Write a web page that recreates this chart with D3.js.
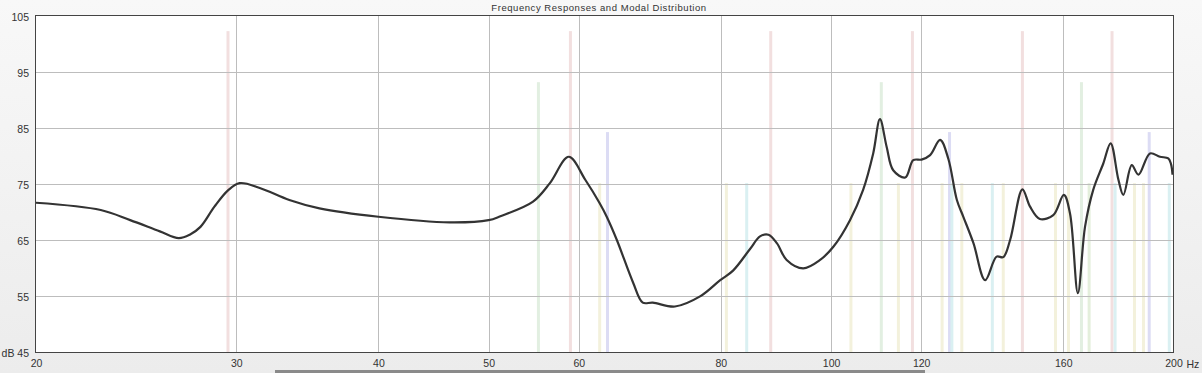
<!DOCTYPE html>
<html>
<head>
<meta charset="utf-8">
<script src="https://cdn.jsdelivr.net/npm/d3@7/dist/d3.min.js"></script>
<style>
  html, body { margin: 0; padding: 0; background: #f2f2f2; }
  svg { display: block; }
  text { font-family: "Liberation Sans", Arial, sans-serif; fill: #333; }
</style>
</head>
<body>
<svg id="chart" width="1202" height="373"></svg>
<script>
// ---------- data ----------
const title = "Frequency Responses and Modal Distribution";
const xTicks = [20, 30, 40, 50, 60, 80, 100, 120, 160, 200];
const yTicks = [45, 55, 65, 75, 85, 95, 105];

// measured response: frequency (Hz) and level (dB)
const respFreq = [20.0, 22.8, 24.2, 25.7, 26.7, 27.3, 27.9, 28.7, 29.5, 30.2, 31.5, 33.4, 35.5,
  40.0, 46.2, 50.0, 51.2, 54.7, 56.6, 58.8, 60.8, 62.6, 63.5, 64.8, 67.0, 68.3, 69.7, 72.9,
  76.7, 79.9, 82.0, 84.9, 86.6, 88.1, 89.6, 91.4, 94.5, 97.8, 100.5, 103.9, 106.7, 108.9,
  110.4, 111.9, 113.4, 116.2, 118.1, 120.1, 122.2, 124.7, 126.8, 129.0, 130.7, 133.4, 136.6,
  139.8, 141.7, 143.7, 147.3, 149.6, 152.6, 156.8, 160.2, 162.2, 164.8, 167.2, 170.0, 173.5,
  176.1, 178.9, 180.7, 183.8, 186.3, 190.7, 194.6, 197.9, 199.0, 199.6];
const respDb = [71.7, 70.4, 68.6, 66.6, 65.4, 66.0, 67.4, 71.0, 73.9, 75.2, 74.3, 72.2, 70.7,
  69.2, 68.2, 68.6, 69.3, 71.9, 75.2, 79.9, 75.8, 71.6, 69.2, 65.1, 57.4, 53.9, 53.9, 53.2,
  55.0, 57.9, 59.6, 63.5, 65.7, 66.0, 64.5, 61.5, 60.0, 61.5, 63.9, 68.6, 74.0, 80.5,
  86.6, 81.7, 77.5, 76.2, 79.3, 79.4, 80.2, 82.9, 79.5, 72.2, 69.2, 64.5, 57.9,
  62.1, 62.0, 65.1, 74.1, 71.0, 68.8, 69.5, 73.1, 69.8, 55.6, 67.4, 74.0, 78.7,
  82.3, 75.8, 73.1, 78.4, 76.7, 80.5, 79.9, 79.6, 78.6, 76.7];

// room modes by family (Hz)
const modesLength = [29.5, 59.0, 88.5, 117.9, 147.3, 176.6];
const modesWidth = [55.3, 110.7, 166.0];
const modesHeight = [63.6, 127.1, 190.4];
const modesTangA = [62.6, 80.9, 104.1, 114.6, 125.2, 130.3, 141.7, 157.5, 161.7, 184.8, 188.2];
const modesTangB = [84.3, 127.7, 138.6, 177.7, 198.3];
const modesTangC = [168.6];
// bar top level (dB) of each family
const modeLevels = [102.3, 93.2, 84.3, 75.2, 75.2, 75.2];
const modeColors = ["#f2dfdf", "#e2efe1", "#dcdcf4", "#f3f1dc", "#daf0f2", "#e4efdc"];

// ---------- layout ----------
const W = 1202, H = 373;
const L = 36, R = 1173.5, T = 16, B = 352.5;
const svg = d3.select("#chart");

const defs = svg.append("defs");
const grad = defs.append("linearGradient").attr("id", "bg").attr("x1", 0).attr("y1", 0).attr("x2", 0).attr("y2", 1);
grad.append("stop").attr("offset", "0%").attr("stop-color", "#f8f8f8");
grad.append("stop").attr("offset", "100%").attr("stop-color", "#ececec");
svg.append("rect").attr("width", W).attr("height", H).attr("fill", "url(#bg)");

const x = d3.scaleLog().domain([20, 200]).range([L, R]);
const y = d3.scaleLinear().domain([45, 105]).range([B, T]);

// plot background
svg.append("rect").attr("x", L).attr("y", T).attr("width", R - L).attr("height", B - T).attr("fill", "#ffffff");

// modal bars
const families = [modesLength, modesWidth, modesHeight, modesTangA, modesTangB, modesTangC];
families.forEach((arr, i) => {
  svg.append("g").selectAll("rect").data(arr).join("rect")
    .attr("x", d => x(d) - 1.5)
    .attr("width", 3)
    .attr("y", y(modeLevels[i]))
    .attr("height", d => B - y(modeLevels[i]))
    .attr("fill", modeColors[i]);
});

// grid
const crisp = v => Math.round(v) + 0.5;
svg.append("g").selectAll("line").data(yTicks.slice(1, -1)).join("line")
  .attr("x1", L).attr("x2", R)
  .attr("y1", d => crisp(y(d))).attr("y2", d => crisp(y(d)))
  .attr("stroke", "#bdbdbd").attr("stroke-width", 1);
svg.append("g").selectAll("line").data(xTicks.slice(1, -1)).join("line")
  .attr("y1", T).attr("y2", B)
  .attr("x1", d => crisp(x(d))).attr("x2", d => crisp(x(d)))
  .attr("stroke", "#bdbdbd").attr("stroke-width", 1);

// response curve
const pts = respFreq.map((f, i) => [f, respDb[i]]);
const line = d3.line().x(d => x(d[0])).y(d => y(d[1])).curve(d3.curveCatmullRom.alpha(0.5));
svg.append("path").datum(pts).attr("d", line)
  .attr("fill", "none").attr("stroke", "#333").attr("stroke-width", 2.2)
  .attr("stroke-linejoin", "round");

// frame
svg.append("rect").attr("x", crisp(L) - 1).attr("y", crisp(T) - 1)
  .attr("width", Math.round(R - L)).attr("height", Math.round(B - T))
  .attr("fill", "none").attr("stroke", "#444").attr("stroke-width", 1);

// axes (labels only, through d3 axis generators)
const yAxis = d3.axisLeft(y).tickValues(yTicks).tickSize(0).tickPadding(0)
  .tickFormat(d => d === 45 ? "dB 45" : String(d));
const gy = svg.append("g").attr("transform", `translate(${L - 7},1)`).call(yAxis);
gy.select(".domain").remove();
gy.selectAll("text").style("font-size", "10.5px").attr("fill", "#333");

const xAxis = d3.axisBottom(x).tickValues(xTicks).tickSize(0).tickPadding(0)
  .tickFormat(d3.format("d"));
const gx = svg.append("g").attr("transform", `translate(0,${B + 7})`).call(xAxis);
gx.select(".domain").remove();
gx.selectAll("text").style("font-size", "10.5px").attr("fill", "#333");
svg.append("text").attr("x", R + 13).attr("y", B + 15.5).style("font-size", "10.5px").text("Hz");

// title
svg.append("text").attr("x", 599).attr("y", 10.5).attr("text-anchor", "middle")
  .style("font-size", "9.5px").style("letter-spacing", "0.55px").attr("fill", "#333").text(title);

// scroll bar
svg.append("rect").attr("x", 275).attr("y", 370).attr("width", 650).attr("height", 3).attr("fill", "#8a8a8a");
</script>
</body>
</html>
